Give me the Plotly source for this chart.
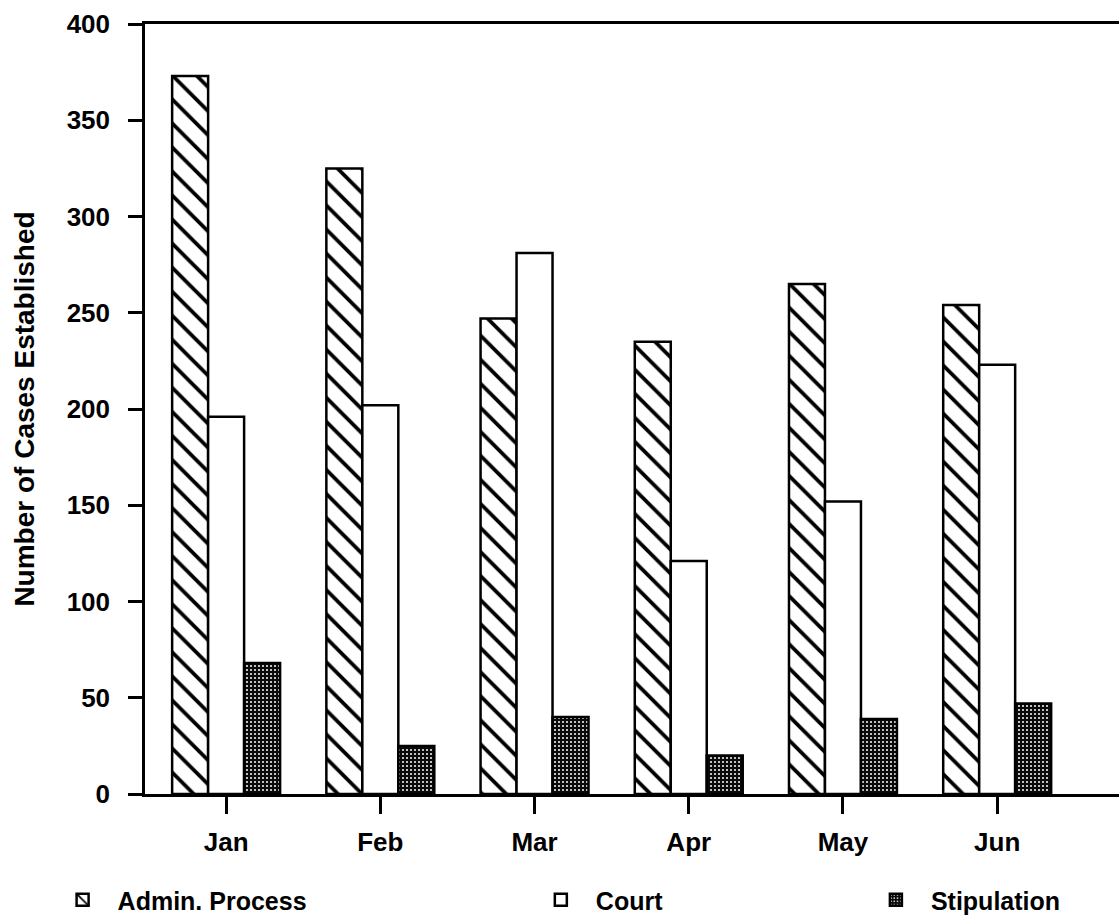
import plotly.graph_objects as go

months = ["Jan", "Feb", "Mar", "Apr", "May", "Jun"]
admin_process = [373, 325, 247, 235, 265, 254]
court = [196, 202, 281, 121, 152, 223]
stipulation = [68, 25, 40, 20, 39, 47]

FONT = "Liberation Sans, Arial, sans-serif"
INK = "#000000"

fig = go.Figure()
fig.add_trace(
    go.Bar(
        x=months,
        y=admin_process,
        name="Admin. Process",
        legend="legend",
        marker=dict(
            color="white",
            line=dict(color=INK, width=2.5),
            pattern=dict(
                shape="\\", fillmode="overlay", fgcolor=INK, fgopacity=1,
                size=17, solidity=0.22,
            ),
        ),
    )
)
fig.add_trace(
    go.Bar(
        x=months,
        y=court,
        name="Court",
        legend="legend2",
        marker=dict(color="white", line=dict(color=INK, width=2.5)),
    )
)
fig.add_trace(
    go.Bar(
        x=months,
        y=stipulation,
        name="Stipulation",
        legend="legend3",
        marker=dict(
            color="#0a0a0a",
            line=dict(color=INK, width=2.5),
            pattern=dict(
                shape=".", fillmode="overlay", fgcolor="white", fgopacity=1,
                size=4, solidity=0.2,
            ),
        ),
    )
)

legend_style = dict(
    orientation="h",
    yanchor="middle",
    y=-0.137,
    xanchor="left",
    font=dict(family=FONT, size=25, color=INK, weight="bold"),
    itemwidth=60,
    bgcolor="rgba(0,0,0,0)",
)

fig.update_layout(
    width=1119,
    height=923,
    margin=dict(l=145, r=0, t=24, b=128),
    paper_bgcolor="white",
    plot_bgcolor="white",
    barmode="group",
    bargap=0.3,
    bargroupgap=0,
    font=dict(family=FONT, color=INK, weight="bold"),
    showlegend=True,
    legend=dict(legend_style, x=-0.1),
    legend2=dict(legend_style, x=0.391),
    legend3=dict(legend_style, x=0.735),
)
fig.update_xaxes(
    range=[-0.526, 5.79],
    showgrid=False,
    showline=True,
    linecolor=INK,
    linewidth=2.5,
    mirror=True,
    ticks="outside",
    ticklen=17,
    tickwidth=2.5,
    tickcolor=INK,
    ticklabelstandoff=6,
    tickfont=dict(family=FONT, size=26, color=INK, weight="bold"),
)
fig.update_yaxes(
    range=[0, 400],
    dtick=50,
    showgrid=False,
    zeroline=False,
    showline=True,
    linecolor=INK,
    linewidth=2.5,
    ticks="outside",
    ticklen=14,
    tickwidth=2.5,
    tickcolor=INK,
    ticklabelstandoff=13,
    tickfont=dict(family=FONT, size=26, color=INK, weight="bold"),
    title=dict(
        text="Number of Cases Established",
        font=dict(family=FONT, size=28, color=INK, weight="bold"),
        standoff=24,
    ),
)

fig.write_html(
    "out.html",
    config={"displayModeBar": False},
    post_script="document.body.style.margin='0';",
)
